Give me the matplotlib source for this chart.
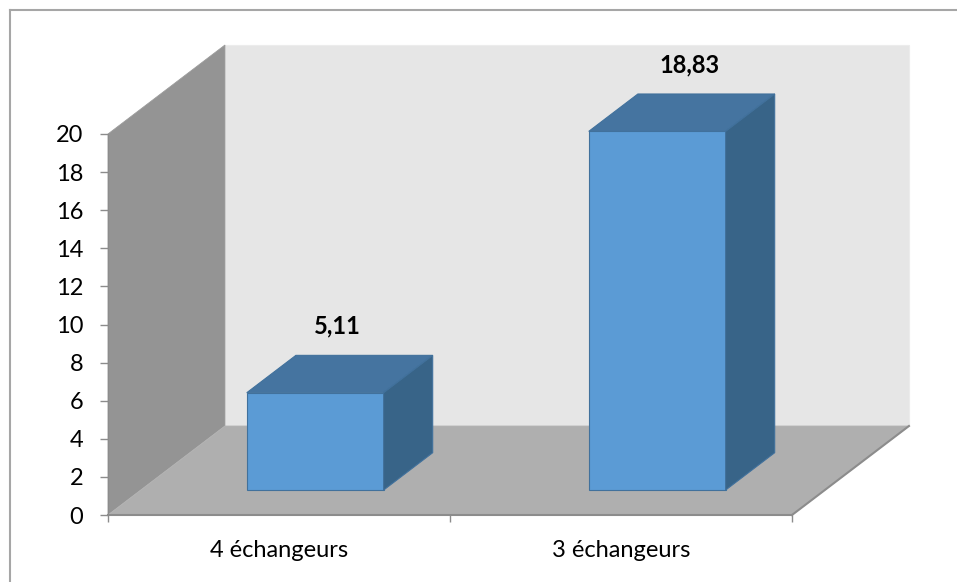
import matplotlib.pyplot as plt
from matplotlib.patches import Polygon
from matplotlib.lines import Line2D

# Données du graphique
categories = ["4 échangeurs", "3 échangeurs"]
valeurs = [5.11, 18.83]
etiquettes = ["5,11", "18,83"]
graduations = list(range(0, 21, 2))

plt.rcParams['font.family'] = ['Lato', 'DejaVu Sans']

fig = plt.figure(figsize=(9.57, 5.82), dpi=100)
ax = fig.add_axes([108 / 957, 1 - 515 / 582, 684 / 957, 381 / 582])
ax.set_xlim(0, len(categories))
ax.set_ylim(0, 20)
ax.patch.set_visible(False)

# décalage de profondeur (effet 3D oblique), en unités des axes
dx, dy = 0.342, 4.672
n = len(categories)

def poly(pts, couleur, bord="none", lw=0.0, z=1):
    ax.add_patch(Polygon(pts, closed=True, facecolor=couleur, edgecolor=bord,
                         linewidth=lw, clip_on=False, zorder=z))

# mur du fond, mur latéral et plancher
poly([(dx, dy), (n + dx, dy), (n + dx, 20 + dy), (dx, 20 + dy)], "#e6e6e6", "#ececec", 0.8)
poly([(0, 0), (0, 20), (dx, 20 + dy), (dx, dy)], "#949494", "#9c9c9c", 0.6)
poly([(0, 0), (n, 0), (n + dx, dy), (dx, dy)], "#afafaf", "#b4b4b4", 0.6)
ax.plot([n, n + dx], [0, dy], color="#8c8c8c", lw=1.5, clip_on=False, zorder=2)

# barres en 3D
t0, t1 = 0.28, 0.70
larg = 0.40
for i, v in enumerate(valeurs):
    x0 = i + 0.51 - larg / 2 + t0 * dx
    y0 = t0 * dy
    ex, ey = (t1 - t0) * dx, (t1 - t0) * dy
    bord = "#41719c"
    poly([(x0, y0), (x0 + larg, y0), (x0 + larg, y0 + v), (x0, y0 + v)],
         "#5b9bd5", bord, 0.8, 3)
    poly([(x0, y0 + v), (x0 + larg, y0 + v), (x0 + larg + ex, y0 + v + ey), (x0 + ex, y0 + v + ey)],
         "#4574a0", bord, 0.8, 3)
    poly([(x0 + larg, y0), (x0 + larg + ex, y0 + ey), (x0 + larg + ex, y0 + ey + v), (x0 + larg, y0 + v)],
         "#386488", bord, 0.8, 3)
    tm = (t0 + t1) / 2
    ax.text(i + 0.5 + 0.17 + 0.03 * i, v + tm * dy + 2.5, etiquettes[i], ha="center", va="center",
            fontsize=17, fontweight="bold", color="black", zorder=4)

# axes
for s in ["top", "right"]:
    ax.spines[s].set_visible(False)
ax.spines["left"].set_color("#8c8c8c")
ax.spines["bottom"].set_color("#8c8c8c")
ax.spines["bottom"].set_linewidth(1.5)
ax.spines["left"].set_zorder(5)
ax.spines["bottom"].set_zorder(5)

ax.set_yticks(graduations)
ax.tick_params(axis="y", length=5.8, width=1, color="#8c8c8c", pad=12, labelsize=17)
ax.set_xticks(range(n + 1))
ax.set_xticklabels([])
ax.tick_params(axis="x", which="major", length=5, width=1, color="#8c8c8c")
ax.set_xticks([i + 0.5 for i in range(n)], minor=True)
ax.set_xticklabels(categories, minor=True)
ax.tick_params(axis="x", which="minor", length=0, pad=18, labelsize=17)

# cadre de la zone de graphique
fig.add_artist(Line2D([10 / 957, 10 / 957], [0, 1 - 10 / 582], color="#a6a6a6", lw=1.5))
fig.add_artist(Line2D([10 / 957, 1], [1 - 10 / 582, 1 - 10 / 582], color="#a6a6a6", lw=1.5))

fig.savefig("out.png", dpi=100)
